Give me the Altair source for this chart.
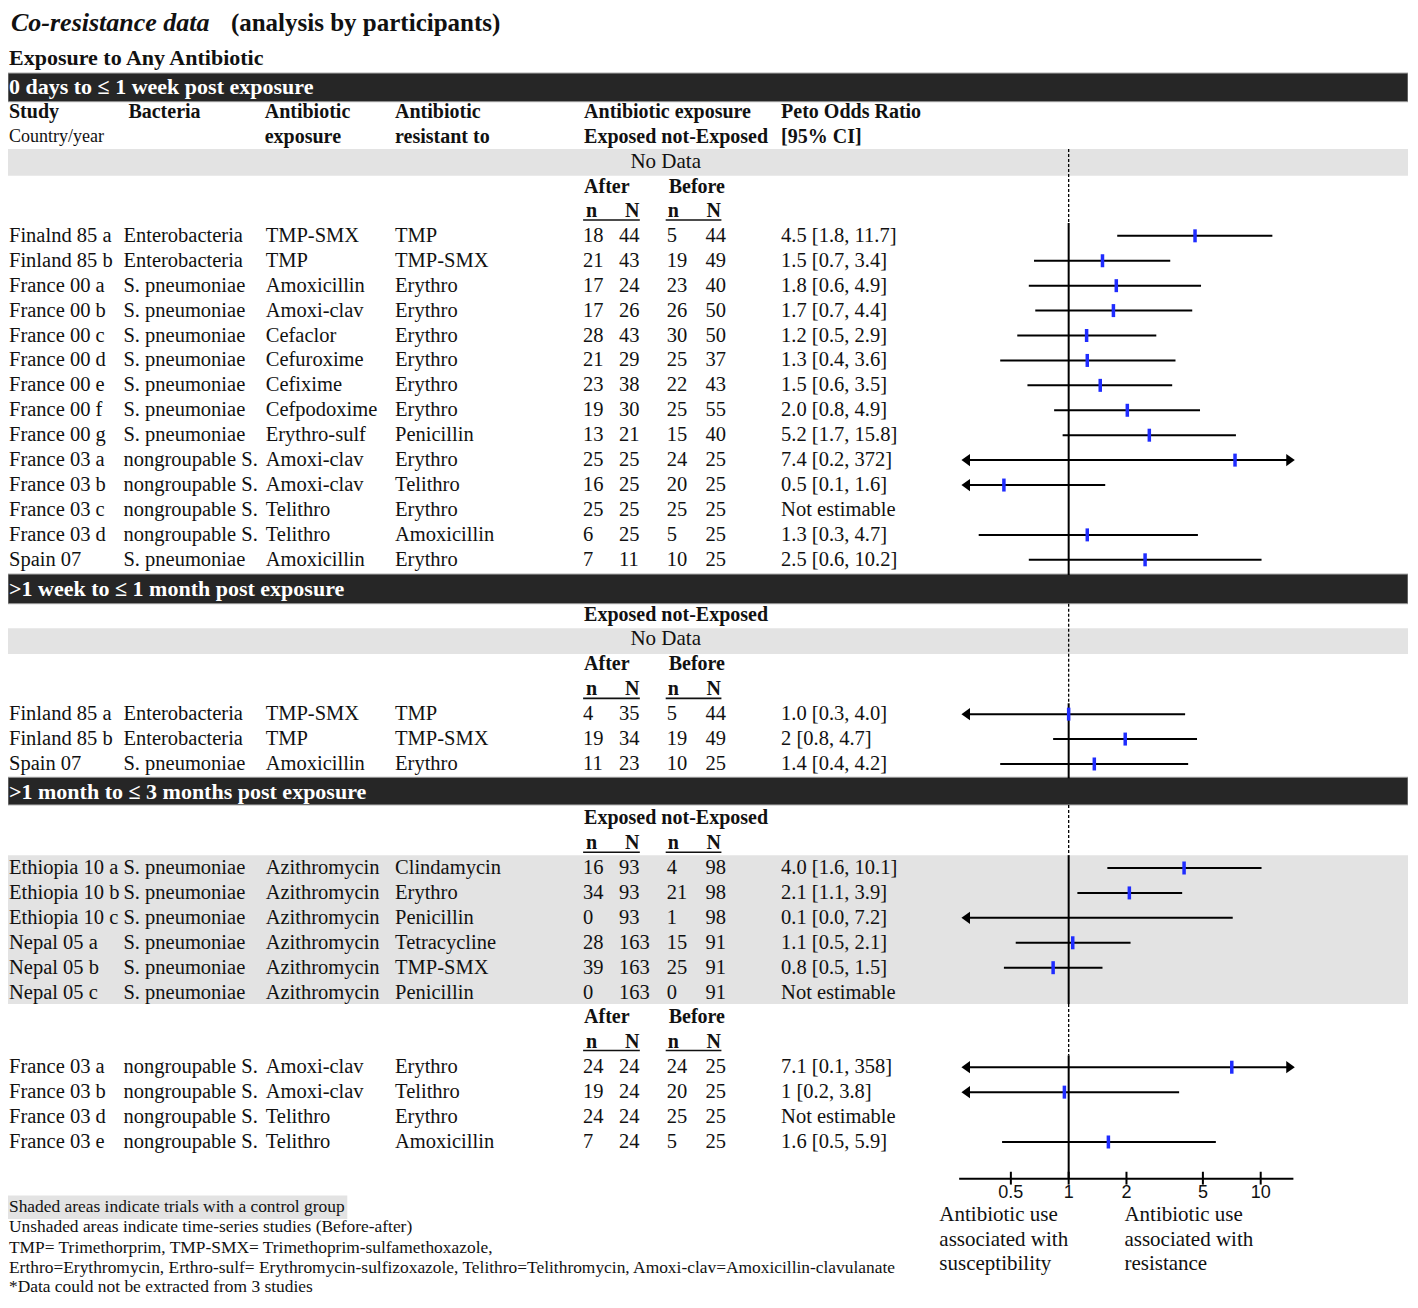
import altair as alt
import pandas as pd

# ---------------- data ----------------
# Section 1: 0 days to <= 1 week (before-after studies)
s1_study = ["Finalnd 85 a", "Finland 85 b", "France 00 a", "France 00 b", "France 00 c", "France 00 d",
            "France 00 e", "France 00 f", "France 00 g", "France 03 a", "France 03 b", "France 03 c",
            "France 03 d", "Spain 07"]
s1_bact = ["Enterobacteria", "Enterobacteria"] + ["S. pneumoniae"] * 7 + ["nongroupable S."] * 4 + ["S. pneumoniae"]
s1_expo = ["TMP-SMX", "TMP", "Amoxicillin", "Amoxi-clav", "Cefaclor", "Cefuroxime", "Cefixime", "Cefpodoxime",
           "Erythro-sulf", "Amoxi-clav", "Amoxi-clav", "Telithro", "Telithro", "Amoxicillin"]
s1_res = ["TMP", "TMP-SMX", "Erythro", "Erythro", "Erythro", "Erythro", "Erythro", "Erythro", "Penicillin",
          "Erythro", "Telithro", "Erythro", "Amoxicillin", "Erythro"]
s1_nA = [18, 21, 17, 17, 28, 21, 23, 19, 13, 25, 16, 25, 6, 7]
s1_NA = [44, 43, 24, 26, 43, 29, 38, 30, 21, 25, 25, 25, 25, 11]
s1_nB = [5, 19, 23, 26, 30, 25, 22, 25, 15, 24, 20, 25, 5, 10]
s1_NB = [44, 49, 40, 50, 50, 37, 43, 55, 40, 25, 25, 25, 25, 25]
s1_or = ["4.5 [1.8, 11.7]", "1.5 [0.7, 3.4]", "1.8 [0.6, 4.9]", "1.7 [0.7, 4.4]", "1.2 [0.5, 2.9]",
         "1.3 [0.4, 3.6]", "1.5 [0.6, 3.5]", "2.0 [0.8, 4.9]", "5.2 [1.7, 15.8]", "7.4 [0.2, 372]",
         "0.5 [0.1, 1.6]", "Not estimable", "1.3 [0.3, 4.7]", "2.5 [0.6, 10.2]"]
s1_est = [4.55, 1.5, 1.77, 1.71, 1.24, 1.25, 1.46, 2.02, 2.63, 7.35, 0.46, None, 1.25, 2.5]
s1_lo = [1.79, 0.66, 0.62, 0.67, 0.54, 0.44, 0.61, 0.84, 0.93, 0.2, 0.1, None, 0.34, 0.62]
s1_hi = [11.5, 3.38, 4.89, 4.4, 2.86, 3.6, 3.46, 4.83, 7.43, 372, 1.55, None, 4.71, 10.1]

# Section 2: >1 week to <= 1 month (before-after)
s2_study = ["Finland 85 a", "Finland 85 b", "Spain 07"]
s2_bact = ["Enterobacteria", "Enterobacteria", "S. pneumoniae"]
s2_expo = ["TMP-SMX", "TMP", "Amoxicillin"]
s2_res = ["TMP", "TMP-SMX", "Erythro"]
s2_nA = [4, 19, 11]
s2_NA = [35, 34, 23]
s2_nB = [5, 19, 10]
s2_NB = [44, 49, 25]
s2_or = ["1.0 [0.3, 4.0]", "2 [0.8, 4.7]", "1.4 [0.4, 4.2]"]
s2_est = [1.0, 1.97, 1.36]
s2_lo = [0.25, 0.83, 0.44]
s2_hi = [4.04, 4.66, 4.19]

# Section 3a: >1 month to <= 3 months (controlled trials)
s3a_study = ["Ethiopia 10 a", "Ethiopia 10 b", "Ethiopia 10 c", "Nepal 05 a", "Nepal 05 b", "Nepal 05 c"]
s3a_bact = ["S. pneumoniae"] * 6
s3a_expo = ["Azithromycin"] * 6
s3a_res = ["Clindamycin", "Erythro", "Penicillin", "Tetracycline", "TMP-SMX", "Penicillin"]
s3a_nA = [16, 34, 0, 28, 39, 0]
s3a_NA = [93, 93, 93, 163, 163, 163]
s3a_nB = [4, 21, 1, 15, 25, 0]
s3a_NB = [98, 98, 98, 91, 91, 91]
s3a_or = ["4.0 [1.6, 10.1]", "2.1 [1.1, 3.9]", "0.1 [0.0, 7.2]", "1.1 [0.5, 2.1]", "0.8 [0.5, 1.5]", "Not estimable"]
s3a_est = [3.99, 2.07, 0.1, 1.05, 0.83, None]
s3a_lo = [1.59, 1.11, 0.01, 0.53, 0.46, None]
s3a_hi = [10.1, 3.9, 7.15, 2.1, 1.5, None]

# Section 3b: >1 month to <= 3 months (before-after)
s3b_study = ["France 03 a", "France 03 b", "France 03 d", "France 03 e"]
s3b_bact = ["nongroupable S."] * 4
s3b_expo = ["Amoxi-clav", "Amoxi-clav", "Telithro", "Telithro"]
s3b_res = ["Erythro", "Telithro", "Erythro", "Amoxicillin"]
s3b_nA = [24, 19, 24, 7]
s3b_NA = [24, 24, 24, 24]
s3b_nB = [24, 20, 25, 5]
s3b_NB = [25, 25, 25, 25]
s3b_or = ["7.1 [0.1, 358]", "1 [0.2, 3.8]", "Not estimable", "1.6 [0.5, 5.9]"]
s3b_est = [7.07, 0.95, None, 1.61]
s3b_lo = [0.1, 0.2, None, 0.45]
s3b_hi = [358, 3.76, None, 5.84]

axis_ticks = [0.5, 1, 2, 5, 10]
axis_tick_labels = ["0.5", "1", "2", "5", "10"]
axis_extent = [0.269, 14.8]
arrow_limits = [0.291, 14.3]
null_value = 1

section_titles = ["0 days to \u2264 1 week post exposure", ">1 week to \u2264 1 month post exposure",
                  ">1 month to \u2264 3 months post exposure"]
footnotes = ["Shaded areas indicate trials with a control group",
             "Unshaded areas indicate time-series studies (Before-after)",
             "TMP= Trimethorprim, TMP-SMX= Trimethoprim-sulfamethoxazole,",
             "Erthro=Erythromycin, Erthro-sulf= Erythromycin-sulfizoxazole, Telithro=Telithromycin, Amoxi-clav=Amoxicillin-clavulanate",
             "*Data could not be extracted from 3 studies"]

# ---------------- layout ----------------
W, H = 1400, 1290
REF_H = 1308
SX = 0.995
def X(ref_x):
    return (ref_x - 2) * SX

ROW0, STEP = 231.0, 25.27
def L(ref_y):
    return (ref_y - ROW0) / STEP

YS = alt.Scale(domain=[L(0), L(REF_H)], reverse=True, nice=False, zero=False)
X_ONE = X(1068)
DEC = 193 * SX
XS = alt.Scale(type="log", domain=[10 ** (-X_ONE / DEC), 10 ** ((W - X_ONE) / DEC)], nice=False)

SERIF = "Liberation Serif"
SANS = "Liberation Sans"
INK = "#111111"
BLUE = "#1f2cff"
LIGHT = "#e3e3e3"
DARK = "#262626"
ROW_SIZE = 20.5

# ---------------- build table ----------------
def section(study, bact, expo, res, nA, NA, nB, NB, ort, est, lo, hi, first_line):
    return pd.DataFrame({
        "line": [first_line + i for i in range(len(study))],
        "study": study, "bact": bact, "expo": expo, "res": res,
        "nA": [str(v) for v in nA], "NA": [str(v) for v in NA],
        "nB": [str(v) for v in nB], "NB": [str(v) for v in NB],
        "ort": ort, "est": est, "lo": lo, "hi": hi,
    })

rows = pd.concat([
    section(s1_study, s1_bact, s1_expo, s1_res, s1_nA, s1_NA, s1_nB, s1_NB, s1_or, s1_est, s1_lo, s1_hi, L(231)),
    section(s2_study, s2_bact, s2_expo, s2_res, s2_nA, s2_NA, s2_nB, s2_NB, s2_or, s2_est, s2_lo, s2_hi, L(716)),
    section(s3a_study, s3a_bact, s3a_expo, s3a_res, s3a_nA, s3a_NA, s3a_nB, s3a_NB, s3a_or, s3a_est, s3a_lo, s3a_hi, L(872)),
    section(s3b_study, s3b_bact, s3b_expo, s3b_res, s3b_nA, s3b_NA, s3b_nB, s3b_NB, s3b_or, s3b_est, s3b_lo, s3b_hi, L(1074)),
], ignore_index=True)

AMIN, AMAX = arrow_limits
ci = rows.dropna(subset=["lo"]).copy()
ci["lo_c"] = ci["lo"].clip(lower=AMIN)
ci["hi_c"] = ci["hi"].clip(upper=AMAX)
left_arrows = ci[ci["lo"] < AMIN].assign(ax=AMIN)
right_arrows = ci[ci["hi"] > AMAX].assign(ax=AMAX)
pts = rows.dropna(subset=["est"])
pts = pts[(pts["est"] >= AMIN) & (pts["est"] <= AMAX)]

Y = lambda f="line": alt.Y(f"{f}:Q", scale=YS, axis=None)

layers = []

# background bands
def band(y1, y2, color, x2=None, stroke=None):
    df = pd.DataFrame({"y1": [L(y1)], "y2": [L(y2)]})
    kw = dict(color=color)
    if stroke:
        kw.update(stroke=stroke, strokeWidth=1)
    return alt.Chart(df).mark_rect(**kw).encode(
        x=alt.value(0), x2=alt.value(x2 if x2 is not None else W),
        y=Y("y1"), y2=alt.Y2("y2:Q"))

for y1, y2 in [(143, 170), (629, 655), (859, 1010)]:
    layers.append(band(y1, y2, LIGHT))
layers.append(band(1204, 1228, LIGHT, x2=X(343)))
for y1, y2 in [(66, 95), (574, 604), (780, 808)]:
    layers.append(band(y1, y2, DARK, stroke="#9a9a9a"))

# null line at OR = 1
segs = pd.DataFrame({
    "y1": [L(v) for v in [143, 218, 604, 705, 808, 859, 1010, 1062]],
    "y2": [L(v) for v in [218, 575, 705, 781, 859, 1010, 1062, 1187]],
    "dash": [1, 0, 1, 0, 1, 0, 1, 0],
    "one": [null_value] * 8,
})
layers.append(alt.Chart(segs[segs.dash == 0]).mark_rule(color="black", strokeWidth=2).encode(
    x=alt.X("one:Q", scale=XS, axis=None), y=Y("y1"), y2=alt.Y2("y2:Q")))
layers.append(alt.Chart(segs[segs.dash == 1]).mark_rule(color="black", strokeWidth=1.3, strokeDash=[3, 2]).encode(
    x=alt.X("one:Q", scale=XS, axis=None), y=Y("y1"), y2=alt.Y2("y2:Q")))

# CI lines
layers.append(alt.Chart(ci).mark_rule(color="black", strokeWidth=2).encode(
    x=alt.X("lo_c:Q", scale=XS, axis=None), x2=alt.X2("hi_c:Q"), y=Y()))
layers.append(alt.Chart(left_arrows).mark_point(shape="M -0.7,0 L 0.7,-1 L 0.7,1 Z", filled=True, size=150,
                                                 color="black", opacity=1).encode(
    x=alt.X("ax:Q", scale=XS, axis=None), y=Y()))
layers.append(alt.Chart(right_arrows).mark_point(shape="M 0.7,0 L -0.7,-1 L -0.7,1 Z", filled=True, size=150,
                                                  color="black", opacity=1).encode(
    x=alt.X("ax:Q", scale=XS, axis=None), y=Y()))
layers.append(alt.Chart(pts).mark_tick(orient="vertical", size=13, thickness=3.5, color=BLUE, opacity=1).encode(
    x=alt.X("est:Q", scale=XS, axis=None), y=Y()))

# custom x axis
axdf = pd.DataFrame({"a": [axis_extent[0]], "b": [axis_extent[1]], "line": [L(1187)]})
layers.append(alt.Chart(axdf).mark_rule(color="black", strokeWidth=2).encode(
    x=alt.X("a:Q", scale=XS, axis=None), x2=alt.X2("b:Q"), y=Y()))
tdf = pd.DataFrame({"v": axis_ticks, "lab": axis_tick_labels,
                    "y1": [L(1180)] * 5, "y2": [L(1193)] * 5, "line": [L(1202)] * 5})
layers.append(alt.Chart(tdf).mark_rule(color="black", strokeWidth=2).encode(
    x=alt.X("v:Q", scale=XS, axis=None), y=Y("y1"), y2=alt.Y2("y2:Q")))
layers.append(alt.Chart(tdf).mark_text(font=SANS, fontSize=18, color=INK, baseline="middle", align="center").encode(
    x=alt.X("v:Q", scale=XS, axis=None), y=Y(), text="lab:N"))

# table text
def col(field, xref, size=ROW_SIZE, align="left"):
    return alt.Chart(rows).mark_text(font=SERIF, fontSize=size, color=INK, align=align, baseline="middle").encode(
        x=alt.value(X(xref)), y=Y(), text=alt.Text(f"{field}:N"))

for field, xref in [("study", 3), ("bact", 118), ("expo", 261), ("res", 391),
                    ("nA", 580), ("NA", 616), ("nB", 664), ("NB", 703), ("ort", 779)]:
    layers.append(col(field, xref))

def label(items, xref, size=20, weight="bold", style="normal", color=INK, align="left", font=SERIF):
    df = pd.DataFrame({"line": [L(y) for y, _ in items], "t": [t for _, t in items]})
    return alt.Chart(df).mark_text(font=font, fontSize=size, fontWeight=weight, fontStyle=style, color=color,
                                   align=align, baseline="middle").encode(
        x=alt.value(X(xref)), y=Y(), text="t:N")

layers += [
    label([(15, "Co-resistance data")], 5, size=26, style="italic"),
    label([(15, "(analysis by participants)")], 226, size=25),
    label([(51, "Exposure to Any Antibiotic")], 3, size=22),
    label([(80, section_titles[0]), (589, section_titles[1]), (795, section_titles[2])], 3, size=22, color="white"),
    label([(105, "Study")], 3),
    label([(105, "Bacteria")], 123),
    label([(105, "Antibiotic"), (131, "exposure")], 260),
    label([(105, "Antibiotic"), (131, "resistant to")], 391),
    label([(105, "Antibiotic exposure"), (131, "Exposed  not-Exposed"), (615, "Exposed  not-Exposed"),
           (821, "Exposed  not-Exposed"), (181, "After"), (665, "After"), (1023, "After")], 581),
    label([(181, "Before"), (665, "Before"), (1023, "Before")], 666),
    label([(105, "Peto Odds Ratio"), (131, "[95% CI]")], 779),
    label([(131, "Country/year")], 3, size=18, weight="normal"),
    label([(156, "No Data"), (640, "No Data")], 663, size=21, weight="normal", align="center"),
]
nN_rows = [206, 691, 847, 1048]
for xref, t in [(583, "n"), (622, "N"), (665, "n"), (704, "N")]:
    layers.append(label([(y, t) for y in nN_rows], xref))
ul = pd.DataFrame({"line": [L(y + 9) for y in nN_rows]})
for a, b in [(580, 637), (663, 719)]:
    layers.append(alt.Chart(ul).mark_rule(color=INK, strokeWidth=1.6).encode(
        x=alt.value(X(a)), x2=alt.value(X(b)), y=Y()))

layers += [
    label([(1224, "Antibiotic use"), (1249, "associated with"), (1274, "susceptibility")], 938, size=21, weight="normal"),
    label([(1224, "Antibiotic use"), (1249, "associated with"), (1274, "resistance")], 1124, size=21, weight="normal"),
    label(list(zip([1216, 1236, 1257, 1278, 1297], footnotes)), 3, size=17.4, weight="normal"),
]

chart = alt.layer(*layers).properties(
    width=W, height=H, padding=0, autosize=alt.AutoSizeParams(type="none"), background="white"
).configure_view(stroke=None)

chart.save("out.html", embed_options={"renderer": "svg", "actions": False})
